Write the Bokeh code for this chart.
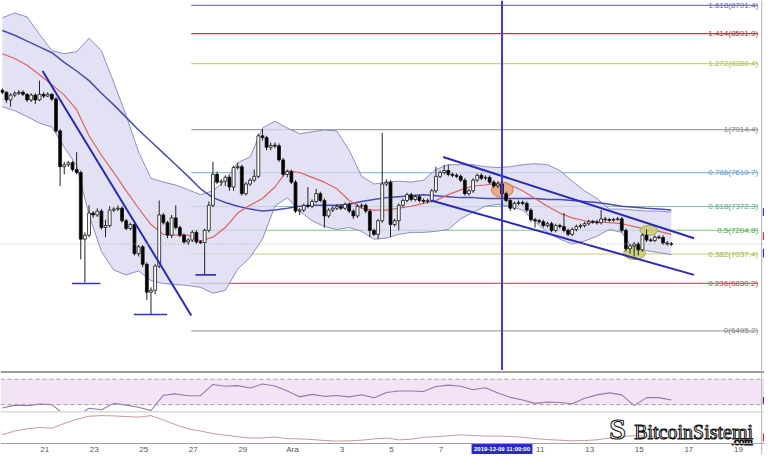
import pandas as pd
from bokeh.plotting import figure
from bokeh.layouts import column
from bokeh.models import ColumnDataSource, Span, Range1d
from bokeh.core.properties import value
from bokeh.embed import file_html
from bokeh.resources import INLINE


def ms(s):
    return pd.Timestamp(s).value / 1e6


# ---------------- data (BTC/USD 4h candles) ----------------
CANDLE_START = "2019-11-19 07:00"
CANDLE_HOURS = 4
OPEN_FIRST = 8192
CLOSE = [8178, 8124, 8158, 8171, 8178, 8164, 8124, 8158, 8124, 8164,
         8151, 8164, 8130, 7905, 7653, 7667, 7681, 7633, 7612, 7142,
         7170, 7326, 7313, 7340, 7224, 7238, 7347, 7354, 7360, 7272,
         7217, 7245, 7040, 7088, 6965, 6768, 6781, 6952, 7313, 7258,
         7170, 7292, 7224, 7170, 7122, 7136, 7190, 7122, 7118, 7204,
         7381, 7599, 7544, 7551, 7578, 7510, 7647, 7653, 7463, 7531,
         7558, 7585, 7871, 7858, 7790, 7803, 7800, 7701, 7599, 7619,
         7544, 7340, 7347, 7381, 7374, 7408, 7463, 7415, 7306, 7347,
         7360, 7374, 7360, 7388, 7340, 7306, 7374, 7381, 7340, 7204,
         7176, 7272, 7531, 7544, 7245, 7272, 7381, 7415, 7456, 7422,
         7442, 7415, 7408, 7415, 7483, 7585, 7612, 7626, 7599, 7592,
         7585, 7558, 7463, 7483, 7558, 7592, 7572, 7578, 7544, 7517,
         7531, 7463, 7415, 7360, 7394, 7401, 7394, 7347, 7279, 7272,
         7265, 7238, 7251, 7204, 7238, 7231, 7204, 7176, 7210, 7231,
         7238, 7251, 7265, 7262, 7258, 7285, 7279, 7276, 7281, 7285,
         7204, 7074, 7095, 7108, 7067, 7170, 7136, 7132, 7156, 7153,
         7115, 7108, 7106]
HIGH = [8205, 8185, 8171, 8185, 8192, 8192, 8171, 8171, 8171, 8260,
        8178, 8178, 8171, 8144, 7919, 7687, 7694, 7694, 7756, 7626,
        7190, 7381, 7340, 7360, 7354, 7279, 7374, 7367, 7381, 7374,
        7285, 7258, 7258, 7101, 7101, 6979, 6802, 6965, 7415, 7326,
        7272, 7313, 7381, 7238, 7183, 7149, 7204, 7204, 7136, 7217,
        7408, 7687, 7619, 7565, 7592, 7592, 7660, 7681, 7667, 7544,
        7572, 7633, 7885, 7919, 7871, 7824, 7824, 7817, 7715, 7633,
        7633, 7558, 7360, 7394, 7510, 7422, 7497, 7476, 7429, 7360,
        7374, 7388, 7388, 7401, 7401, 7354, 7388, 7394, 7394, 7354,
        7217, 7285, 7892, 7565, 7558, 7285, 7394, 7429, 7469, 7469,
        7456, 7456, 7429, 7429, 7497, 7653, 7626, 7667, 7667, 7612,
        7606, 7599, 7572, 7497, 7572, 7606, 7606, 7592, 7592, 7558,
        7551, 7708, 7476, 7429, 7408, 7415, 7415, 7408, 7360, 7292,
        7285, 7279, 7265, 7265, 7251, 7251, 7326, 7217, 7224, 7245,
        7251, 7265, 7279, 7279, 7279, 7347, 7299, 7292, 7292, 7299,
        7299, 7217, 7108, 7122, 7122, 7183, 7210, 7149, 7170, 7170,
        7170, 7129, 7122]
LOW = [8164, 8103, 8076, 8144, 8158, 8151, 8110, 8110, 8096, 8117,
       8137, 8144, 8117, 7892, 7517, 7599, 7653, 7619, 7599, 6999,
       6836, 7156, 7292, 7299, 7210, 7156, 7224, 7333, 7340, 7258,
       7204, 7204, 7027, 7020, 6945, 6713, 6611, 6754, 6938, 7245,
       7149, 7149, 7210, 7156, 7108, 7101, 7122, 7108, 7108, 6890,
       7190, 7367, 7531, 7517, 7517, 7483, 7483, 7633, 7449, 7449,
       7517, 7544, 7572, 7837, 7769, 7769, 7783, 7687, 7585, 7578,
       7531, 7326, 7313, 7333, 7360, 7360, 7394, 7401, 7224, 7292,
       7333, 7347, 7347, 7347, 7326, 7285, 7292, 7360, 7326, 7156,
       7163, 7142, 7258, 7517, 7156, 7231, 7204, 7367, 7401, 7408,
       7408, 7401, 7394, 7394, 7401, 7469, 7572, 7599, 7585, 7578,
       7572, 7544, 7449, 7449, 7469, 7544, 7558, 7558, 7531, 7503,
       7503, 7449, 7401, 7340, 7347, 7381, 7381, 7333, 7265, 7224,
       7251, 7224, 7224, 7190, 7190, 7217, 7190, 7163, 7163, 7197,
       7217, 7224, 7238, 7251, 7245, 7245, 7265, 7265, 7265, 7272,
       7190, 7054, 7040, 7020, 7027, 7054, 7122, 7122, 7122, 7142,
       7101, 7095, 7095]

# indicators, sampled every 3rd candle (12 h)
IND_STEP = 3
BB_UPPER = [8703, 8737, 8709, 8587, 8471, 8450, 8464, 8559, 8471, 8246,
            8014, 7756, 7572, 7544, 7524, 7490, 7456, 7483, 7558, 7681,
            7722, 7926, 7974, 7926, 7885, 7899, 7912, 7905, 7769, 7585,
            7531, 7544, 7551, 7544, 7558, 7633, 7667, 7667, 7667, 7653,
            7647, 7653, 7667, 7674, 7667, 7626, 7551, 7483, 7429, 7354,
            7354, 7347, 7340, 7340, 7333]
BB_LOWER = [8076, 8048, 8007, 7960, 7933, 7790, 7660, 7313, 7054, 6924,
            6890, 6918, 6849, 6829, 6822, 6815, 6802, 6761, 6781, 6931,
            7013, 7142, 7374, 7435, 7340, 7272, 7231, 7210, 7224, 7197,
            7142, 7149, 7176, 7190, 7190, 7197, 7210, 7285, 7333, 7374,
            7388, 7374, 7347, 7265, 7190, 7142, 7108, 7129, 7163, 7210,
            7190, 7061, 7061, 7047, 7033]
BB_BASIS = [8450, 8416, 8369, 8301, 8232, 8158, 8055, 7871, 7734, 7612,
            7483, 7360, 7245, 7176, 7170, 7170, 7129, 7156, 7224, 7326,
            7381, 7429, 7510, 7626, 7612, 7578, 7544, 7497, 7415, 7360,
            7347, 7347, 7360, 7374, 7394, 7415, 7456, 7490, 7517, 7524,
            7538, 7524, 7483, 7429, 7374, 7326, 7292, 7272, 7265, 7258,
            7251, 7231, 7210, 7197, 7176]
MA_SLOW = [8614, 8580, 8539, 8498, 8457, 8389, 8328, 8260, 8171, 8089,
           8001, 7912, 7831, 7749, 7667, 7585, 7497, 7435, 7401, 7374,
           7354, 7340, 7347, 7360, 7374, 7381, 7381, 7381, 7388, 7408,
           7422, 7435, 7442, 7449, 7456, 7449, 7442, 7435, 7435, 7429,
           7429, 7429, 7429, 7429, 7422, 7422, 7415, 7408, 7401, 7388,
           7374, 7367, 7360, 7354, 7347]
RSI = [24.6, 29.2, 28.5, 30.8, 30.0, 14.6, 11.6, 24.3, 21.9, 32.0,
       29.2, 25.9, 20.8, 44.9, 46.9, 43.9, 44.2, 61.8, 58.9, 60.0,
       56.2, 62.6, 59.5, 51.5, 42.3, 46.2, 43.1, 44.3, 42.3, 45.7,
       40.8, 49.2, 51.5, 51.5, 50.8, 58.5, 60.8, 58.9, 53.4, 56.5,
       48.5, 41.5, 37.2, 32.0, 34.2, 33.4, 31.5, 40.0, 45.4, 48.5,
       45.4, 28.5, 41.1, 41.1, 37.2]
LOWER_IND = [26, 38, 45, 49, 47, 62, 75, 85, 87, 86,
             84, 82, 87, 73, 58, 45, 38, 30, 25, 20,
             16, 16, 19, 14, 13, 11, 8, 6, 7, 9,
             13, 16, 10, 12, 18, 20, 23, 26, 24, 22,
             22, 21, 18, 14, 11, 9, 7, 8, 10, 16,
             21, 23, 22, 18, 16]

# Fibonacci levels
FIB_LEVELS = ["1.618", "1.414", "1.272", "1", "0.786", "0.618", "0.5", "0.382", "0.236", "0"]
FIB_PRICES = [8791.4, 8591.9, 8380.4, 7914.4, 7610.7, 7372.3, 7204.8, 7037.4, 6830.2, 6495.2]
FIB_COLORS = ["#7a7ab6", "#a04a4a", "#c4d67a", "#a0a0a0", "#8cbedc",
              "#86c8a8", "#7ccc7c", "#c8d070", "#c46a6a", "#a8a8a8"]
FIB_TEXT_COLORS = ["#6464a8", "#9c3c3c", "#a6c050", "#808080", "#5c98c4",
                   "#52a884", "#4caa4c", "#a8b040", "#b04c4c", "#808080"]
FIB_START = "2019-11-26 22:00"
FIB_END = "2019-12-19 19:00"

# drawn trend lines
TREND_T0 = ["2019-11-20 22:00", "2019-12-07 02:00", "2019-12-06 14:30"]
TREND_P0 = [8328, 7722, 7415]
TREND_T1 = ["2019-11-26 22:00", "2019-12-17 05:00", "2019-12-17 05:00"]
TREND_P1 = [6604, 7149, 6890]
SUPPORT_T0 = ["2019-11-22 02:30", "2019-11-24 14:20", "2019-11-27 02:00"]
SUPPORT_T1 = ["2019-11-23 06:00", "2019-11-25 22:40", "2019-11-27 22:00"]
SUPPORT_P = [6829, 6611, 6890]

# highlighted zones (ellipses): centre time, price, width (hours), height (USD)
ZONE_T = ["2019-12-09 11:20", "2019-12-14 19:20", "2019-12-15 09:10"]
ZONE_P = [7490, 7044, 7204]
ZONE_W_H = [21, 21, 17]
ZONE_H = [108, 92, 70]
ZONE_FILL = ["#e8a474", "#cccc74", "#cccc74"]
ZONE_LINE = ["#c07a50", "#a8a84c", "#a8a84c"]

LAST_PRICE = 7108
CROSSHAIR = "2019-12-09 11:00"
CROSSHAIR_TEXT = "2019-12-09 11:00:00"

TICK_DATES = ["2019-11-21", "2019-11-23", "2019-11-25", "2019-11-27", "2019-11-29",
              "2019-12-01", "2019-12-03", "2019-12-05", "2019-12-07", "2019-12-11",
              "2019-12-13", "2019-12-15", "2019-12-17", "2019-12-19"]
TICK_LABELS = ["21", "23", "25", "27", "29", "Ara", "3", "5", "7", "11", "13", "15", "17", "19"]

X_START = "2019-11-19 05:15"
X_END = "2019-12-20 01:15"

# ---------------- derived ----------------
H4 = CANDLE_HOURS * 3600e3
t0 = ms(CANDLE_START)
times = [t0 + i * H4 for i in range(len(CLOSE))]
opens = [OPEN_FIRST] + CLOSE[:-1]
ind_t = times[::IND_STEP]
X0, X1 = ms(X_START), ms(X_END)

up = dict(t=[], top=[], bot=[], hi=[], lo=[])
dn = dict(t=[], top=[], bot=[], hi=[], lo=[])
for t, o, h, l, c in zip(times, opens, HIGH, LOW, CLOSE):
    top, bot = max(o, c), min(o, c)
    if top - bot < 6:
        mid = (top + bot) / 2
        top, bot = mid + 3, mid - 3
    d = up if c >= o else dn
    d["t"].append(t); d["top"].append(top); d["bot"].append(bot)
    d["hi"].append(h); d["lo"].append(l)

FONT = value("Liberation Sans")


def base_fig(h, y0, y1):
    f = figure(width=764, height=h, x_range=Range1d(X0, X1), y_range=Range1d(y0, y1),
               x_axis_type=None, y_axis_type=None, output_backend="svg",
               toolbar_location=None, min_border=0)
    f.outline_line_color = None
    f.background_fill_color = "white"
    f.border_fill_color = "white"
    return f


# ---------------- main price panel ----------------
p1 = base_fig(370, 6215.8, 8825.2)

p1.segment(x0=[ms(FIB_START)] * len(FIB_PRICES), y0=FIB_PRICES,
           x1=[ms(FIB_END)] * len(FIB_PRICES), y1=FIB_PRICES,
           line_color=FIB_COLORS, line_width=1.2)

p1.varea(x=ind_t, y1=BB_LOWER, y2=BB_UPPER, fill_color="#d8d8f0", fill_alpha=0.75)
p1.line(ind_t, BB_UPPER, line_color="#8c8cc8", line_width=1)
p1.line(ind_t, BB_LOWER, line_color="#8c8cc8", line_width=1)
p1.line(ind_t, MA_SLOW, line_color="#4a4ab8", line_width=1.5)
p1.line(ind_t, BB_BASIS, line_color="#e06060", line_width=1.2)

p1.add_layout(Span(location=LAST_PRICE, dimension="width", line_color="#b0b0b0",
                   line_dash="1 2", line_width=1))

fib_labels = [f"{lv}({pr:.1f})" for lv, pr in zip(FIB_LEVELS, FIB_PRICES)]
p1.text(x=[ms(FIB_END)] * len(FIB_PRICES), y=FIB_PRICES, text=fib_labels,
        text_align="right", text_baseline="middle", text_font=FONT,
        text_font_size="8px", text_color=FIB_TEXT_COLORS)

p1.ellipse(x=[ms(t) for t in ZONE_T], y=ZONE_P,
           width=[w * 3600e3 for w in ZONE_W_H], height=ZONE_H,
           fill_color=ZONE_FILL, fill_alpha=0.85, line_color=ZONE_LINE, line_width=1)

cw = H4 * 0.7
for d, fill in ((up, "white"), (dn, "black")):
    src = ColumnDataSource(d)
    p1.segment(x0="t", y0="lo", x1="t", y1="hi", source=src, line_color="#222222", line_width=1)
    p1.vbar(x="t", width=cw, top="top", bottom="bot", source=src,
            fill_color=fill, line_color="#111111", line_width=0.8)

p1.segment(x0=[ms(t) for t in TREND_T0], y0=TREND_P0,
           x1=[ms(t) for t in TREND_T1], y1=TREND_P1,
           line_color="#2a2ab4", line_width=2)
p1.segment(x0=[ms(t) for t in SUPPORT_T0], y0=SUPPORT_P,
           x1=[ms(t) for t in SUPPORT_T1], y1=SUPPORT_P,
           line_color="#3434c0", line_width=1.6)

p1.add_layout(Span(location=ms(CROSSHAIR), dimension="height",
                   line_color="#3c3cd4", line_width=2))
p1.add_layout(Span(location=ms("2019-12-19 22:30"), dimension="height",
                   line_color="#b4b4b4", line_width=1))
p1.quad(left=[ms("2019-12-19 23:40")] * 3, right=[X1] * 3,
        bottom=[7306, 7136, 7013], top=[7360, 7190, 7074],
        fill_color=["#2a2ad0", "#d02a2a", "#2a2ad0"], line_color=None)

# ---------------- RSI panel ----------------
p2 = base_fig(41, 19.2, 83.8)
p2.varea(x=[X0, X1], y1=[30, 30], y2=[70, 70], fill_color="#f2e4f4")
for lvl in (70, 30):
    p2.add_layout(Span(location=lvl, dimension="width", line_color="#a0a0a0",
                       line_dash="4 3", line_width=1))
p2.add_layout(Span(location=81.6, dimension="width", line_color="#9c9c9c", line_width=2))
p2.line(ind_t, RSI, line_color="#9676ae", line_width=1.1)
p2.add_layout(Span(location=ms("2019-12-19 22:30"), dimension="height",
                   line_color="#b4b4b4", line_width=1))
p2.quad(left=[ms("2019-12-19 23:40")], right=[X1], bottom=[31], top=[42],
        fill_color="#6a2a9a", line_color=None)

# ---------------- lower indicator + date row ----------------
p3 = base_fig(43, -36.4, 100)
p3.add_layout(Span(location=99.2, dimension="width", line_color="#a8a8a8", line_width=1.2))
p3.line(ind_t, LOWER_IND, line_color="#cc9696", line_width=1)
p3.add_layout(Span(location=-1.5, dimension="width", line_color="#a0a0a0", line_width=1))
p3.add_layout(Span(location=ms("2019-12-19 22:30"), dimension="height",
                   line_color="#b4b4b4", line_width=1))
p3.quad(left=[ms("2019-12-19 23:40")], right=[X1], bottom=[6], top=[30],
        fill_color="#d02a2a", line_color=None)

p3.text(x=[ms(d) for d in TICK_DATES], y=[-19] * len(TICK_DATES), text=TICK_LABELS,
        text_align="center", text_baseline="middle", text_font=FONT,
        text_font_size="8px", text_color="#555555")
p3.quad(left=[ms("2019-12-08 05:30")], right=[ms("2019-12-10 16:30")],
        bottom=[-36.4], top=[-3], fill_color="#2a2acc", line_color=None)
p3.text(x=[ms(CROSSHAIR)], y=[-19.5], text=[CROSSHAIR_TEXT], text_align="center",
        text_baseline="middle", text_font=FONT, text_font_size="6px",
        text_font_style="bold", text_color="white")

# watermark logo
p3.text(x=[ms("2019-12-14 03:00")], y=[46], text=["S"], text_align="center",
        text_baseline="middle", text_font=value("Liberation Serif"), text_font_size="30px",
        text_font_style="bold", text_color="white", text_outline_color="#111111")
p3.text(x=[ms("2019-12-14 19:00")], y=[36], text=["BitcoinSistemi"], text_align="left",
        text_baseline="alphabetic", text_font=value("Liberation Serif"),
        text_font_size="20px", text_color="white", text_outline_color="#111111")
p3.text(x=[ms("2019-12-19 14:00")], y=[5], text=[".com"], text_align="right",
        text_baseline="alphabetic", text_font=value("Liberation Serif"),
        text_font_size="11px", text_color="white", text_outline_color="#111111")

layout = column(p1, p2, p3, spacing=0)
open("out.html", "w").write(file_html(layout, INLINE))
